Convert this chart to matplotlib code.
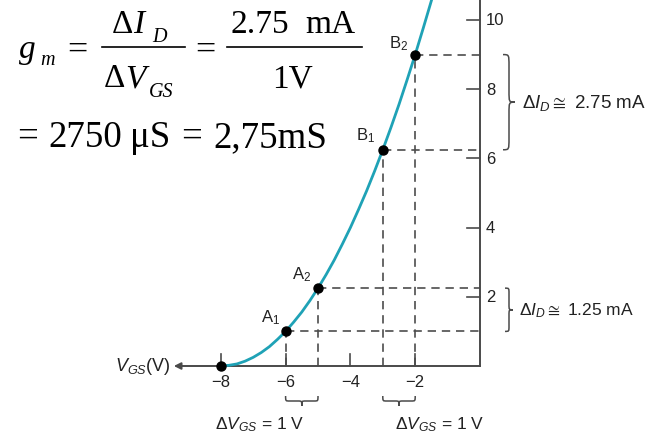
import matplotlib
matplotlib.use("Agg")
import matplotlib.pyplot as plt
from matplotlib.path import Path
from matplotlib.patches import PathPatch
from matplotlib.lines import Line2D

plt.rcParams["font.family"] = ["Liberation Sans", "DejaVu Sans"]
plt.rcParams["mathtext.fontset"] = "custom"
plt.rcParams["mathtext.rm"] = "Liberation Sans"
plt.rcParams["mathtext.it"] = "Liberation Sans:italic"
plt.rcParams["mathtext.sf"] = "Liberation Sans"

# transfer curve I_D(V_GS)
vgs = [-8, -7.75, -7.5, -7.25, -7, -6.75, -6.5, -6.25, -6, -5.75, -5.5, -5.25, -5,
       -4.75, -4.5, -4.25, -4, -3.75, -3.5, -3.25, -3, -2.75, -2.5, -2.25, -2,
       -1.75, -1.5, -1.25]
id_ma = [0, 0.02, 0.06, 0.14, 0.25, 0.39, 0.56, 0.77, 1.0, 1.27, 1.56, 1.89, 2.25,
         2.64, 3.06, 3.52, 4.0, 4.52, 5.06, 5.64, 6.25, 6.89, 7.56, 8.27, 9.0,
         9.77, 10.56, 11.39]

# marked operating points
pt_names = ["A$_1$", "A$_2$", "B$_1$", "B$_2$"]
pt_vgs = [-6, -5, -3, -2]
pt_id = [1.0, 2.25, 6.25, 9.0]
vp = -8  # pinch-off

xticks = [-8, -6, -4, -2]
xtick_labels = ["\u22128", "\u22126", "\u22124", "\u22122"]
yticks = [2, 4, 6, 8, 10]

W, H = 658, 439
PXV, PXI = 32.4, 34.6      # pixels per volt / per mA
X0, Y0 = 480, 367          # pixel position of the origin

CURVE = "#1fa2b6"
AXC = "#4a4a4a"
DASH = "#4d4d4d"
TXT = "#222222"

fig = plt.figure(figsize=(W / 100, H / 100), dpi=100)
ax = fig.add_axes([0, 0, 1, 1])
ax.set_xlim(-X0 / PXV, (W - X0) / PXV)
ax.set_ylim((Y0 - H) / PXI, Y0 / PXI)
ax.axis("off")
ytop = Y0 / PXI


def brace(x0, y0, y1, depth, vertical=True, color=AXC):
    # curly brace along [y0, y1]; tip points away by `depth` (data units)
    h = depth / 2
    span = abs(y1 - y0)
    r = min(span * 0.12, abs(depth) * 1.2) * (1 if y1 > y0 else -1)
    ym = (y0 + y1) / 2
    pts = [(x0, y0),
           (x0 + h, y0), (x0 + h, y0), (x0 + h, y0 + r),
           (x0 + h, ym - r),
           (x0 + h, ym), (x0 + h, ym), (x0 + depth, ym),
           (x0 + h, ym), (x0 + h, ym), (x0 + h, ym + r),
           (x0 + h, y1 - r),
           (x0 + h, y1), (x0 + h, y1), (x0, y1)]
    codes = [Path.MOVETO] + [Path.CURVE4] * 3 + [Path.LINETO] + [Path.CURVE4] * 6 \
        + [Path.LINETO] + [Path.CURVE4] * 3
    if not vertical:
        pts = [(b, a) for a, b in pts]
    ax.add_patch(PathPatch(Path(pts, codes), fill=False, color=color, lw=1.1, zorder=2))


# axes
ax.plot([0, 0], [0, ytop], color=AXC, lw=1.4, zorder=2)
ax.annotate("", xy=(-9.45, 0), xytext=(0, 0),
            arrowprops=dict(arrowstyle="-|>", color=AXC, lw=1.4, mutation_scale=10,
                            shrinkA=0, shrinkB=0), zorder=2)
for v, lab in zip(xticks, xtick_labels):
    ax.plot([v, v], [0, 12 / PXI], color=AXC, lw=1.2, zorder=2)
    ax.annotate(lab, (v, 0), xytext=(0, -16), textcoords="offset pixels",
                ha="center", va="center", fontsize=12, color=TXT)
for i in yticks:
    ax.plot([-13 / PXV, 0], [i, i], color=AXC, lw=1.2, zorder=2)
    ax.annotate(str(i), (0, i), xytext=(6, 0), textcoords="offset pixels",
                ha="left", va="center", fontsize=12, color=TXT)
ax.annotate("$V_{GS}$(V)", (-9.45, 0), xytext=(-3, 0), textcoords="offset pixels",
            ha="right", va="center", fontsize=13, color=TXT)

# projections of the operating points onto both axes
for v, i in zip(pt_vgs, pt_id):
    ax.plot([v, v], [0, i], color=DASH, lw=1.2, ls=(0, (5, 3.5)), zorder=1)
    ax.plot([v, 0], [i, i], color=DASH, lw=1.2, ls=(0, (5, 3.5)), zorder=1)

ax.plot(vgs, id_ma, color=CURVE, lw=2.0, zorder=3, solid_capstyle="round")
ax.plot(pt_vgs + [vp], pt_id + [0], "o", color="black", ms=6.5, zorder=4)

offsets = [(-15, 15), (-16, 14), (-17, 15), (-17, 12)]
for name, v, i, off in zip(pt_names, pt_vgs, pt_id, offsets):
    ax.annotate(name, (v, i), xytext=off, textcoords="offset pixels",
                ha="center", va="center", fontsize=12, color=TXT)

# delta V_GS braces under the axis
for (a, b), dx in zip([(pt_vgs[0], pt_vgs[1]), (pt_vgs[2], pt_vgs[3])], [-42, 41]):
    brace(-30 / PXI, a, b, -10 / PXI, vertical=False)
    ax.annotate("\u0394$V_{GS}$ = 1 V", ((a + b) / 2, 0), xytext=(dx, -58),
                textcoords="offset pixels", ha="center", va="center",
                fontsize=12.5, color=TXT)

# delta I_D braces right of the axis
brace(23 / PXV, pt_id[2], pt_id[3], 12 / PXV)
ax.annotate("\u0394$I_D \\cong$ 2.75 mA", (35 / PXV, (pt_id[2] + pt_id[3]) / 2),
            xytext=(7, 0), textcoords="offset pixels", ha="left", va="center",
            fontsize=13.5, color=TXT)
brace(25 / PXV, pt_id[0], pt_id[1], 8 / PXV)
ax.annotate("\u0394$I_D \\cong$ 1.25 mA", (33 / PXV, (pt_id[0] + pt_id[1]) / 2),
            xytext=(6, 0), textcoords="offset pixels", ha="left", va="center",
            fontsize=12.5, color=TXT)


# transconductance formula
def ftext(x, y, s, size, style="normal"):
    fig.text(x / W, 1 - y / H, s, fontsize=size, family="Liberation Serif",
             style=style, ha="left", va="baseline", color="black")


def fbar(x0, x1, y):
    fig.add_artist(Line2D([x0 / W, x1 / W], [1 - y / H, 1 - y / H],
                          transform=fig.transFigure, color="black", lw=1.2))


S1, S2, SS = 24, 26.6, 14.5
ftext(19, 58, "g", S1, "italic")
ftext(40, 65, "m", SS, "italic")
ftext(67, 60, "=", 26)
fbar(102, 185, 47.7)
ftext(112, 33, "\u0394", S1)
ftext(133, 33, "I", S1, "italic")
ftext(152, 42, "D", SS, "italic")
ftext(104, 87, "\u0394", S1)
ftext(125, 87, "V", S1, "italic")
ftext(149, 97, "GS", SS, "italic")
ftext(195, 60, "=", 26)
fbar(227, 362, 47.7)
ftext(231, 33, "2.75", S1)
ftext(305, 33, "mA", S1)
ftext(272, 88, "1V", S1)

ftext(17, 147, "=", S2)
ftext(48, 147, "2750", S2)
ftext(130, 147, "\u03bcS", S2)
ftext(181, 147, "=", S2)
ftext(213, 147, "2,75mS", S2)

fig.savefig("out.png", dpi=100)
